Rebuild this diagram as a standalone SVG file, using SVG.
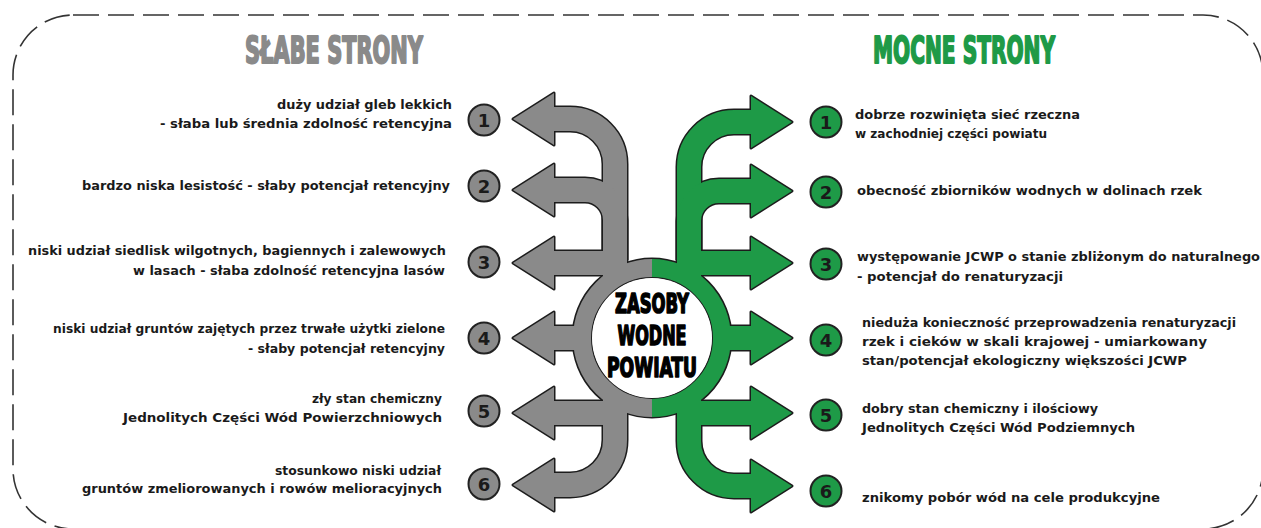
<svg xmlns="http://www.w3.org/2000/svg" width="1261" height="528" viewBox="0 0 1261 528">
<defs>
<style>
.ol{fill:none;stroke:#1c1c1c;stroke-width:27;stroke-linecap:butt}
.gf{fill:none;stroke:#8a8a8a;stroke-width:24;stroke-linecap:butt}
.nf{fill:none;stroke:#1e9a47;stroke-width:24;stroke-linecap:butt}
.olh{fill:#1c1c1c;stroke:#1c1c1c;stroke-width:3;stroke-linejoin:round}
.gh{fill:#8a8a8a}
.nh{fill:#1e9a47}
.t{font-family:"DejaVu Sans","Liberation Sans",sans-serif;font-weight:bold;font-size:13px;fill:#1a1a1a}
.e{text-anchor:end}
.num{font-family:"DejaVu Sans","Liberation Sans",sans-serif;font-weight:bold;font-size:18px;fill:#1a1a1a;text-anchor:middle}
.cg{fill:#8a8a8a;stroke:#222;stroke-width:2}
.cn{fill:#1e9a47;stroke:#222;stroke-width:2}
.hd{font-family:"Liberation Sans Narrow","DejaVu Sans Condensed","Liberation Sans",sans-serif;font-weight:bold;font-size:37px;text-anchor:middle;stroke-width:2;stroke-linejoin:round}
.ct{font-family:"Liberation Sans Narrow","DejaVu Sans Condensed","Liberation Sans",sans-serif;font-weight:bold;font-size:27px;fill:#000;stroke:#000;stroke-width:1.6;stroke-linejoin:round;text-anchor:middle}
</style>
</defs>
<rect x="13" y="15" width="1250" height="514" rx="60" fill="none" stroke="#333" stroke-width="1.6" stroke-dasharray="26 9"/>

<g id="connectors">
  <g id="outline">
    <circle cx="652" cy="338" r="70" fill="none" stroke="#1c1c1c" stroke-width="21"/>
    <path class="ol" d="M554,119 H570 A45,45 0 0 1 615,164 V282"/>
    <path class="ol" d="M554,190 H585 A30,30 0 0 1 615,220 V260"/>
    <path class="ol" d="M554,263 H627"/>
    <path class="ol" d="M554,338 H590"/>
    <path class="ol" d="M554,413 H627"/>
    <path class="ol" d="M554,485 H570 A45,45 0 0 0 615,440 V395"/>
    <path class="ol" d="M751,122 H734 A45,45 0 0 0 689,167 V282"/>
    <path class="ol" d="M751,191 H719 A30,30 0 0 0 689,221 V260"/>
    <path class="ol" d="M751,263 H677"/>
    <path class="ol" d="M751,338 H714"/>
    <path class="ol" d="M751,413 H677"/>
    <path class="ol" d="M751,486 H734 A45,45 0 0 1 689,441 V395"/>
    <polygon class="olh" points="513,119 554,93 554,145"/>
    <polygon class="olh" points="513,190 554,164 554,216"/>
    <polygon class="olh" points="513,263 554,237 554,289"/>
    <polygon class="olh" points="513,338 554,312 554,364"/>
    <polygon class="olh" points="513,413 554,387 554,439"/>
    <polygon class="olh" points="513,485 554,459 554,511"/>
    <polygon class="olh" points="792,122 751,96 751,148"/>
    <polygon class="olh" points="792,191 751,165 751,217"/>
    <polygon class="olh" points="792,263 751,237 751,289"/>
    <polygon class="olh" points="792,338 751,312 751,364"/>
    <polygon class="olh" points="792,413 751,387 751,439"/>
    <polygon class="olh" points="792,486 751,460 751,512"/>
  </g>
  <g id="weak-arrows">
    <path d="M652,268 A70,70 0 0 0 652,408" fill="none" stroke="#8a8a8a" stroke-width="18"/>
    <path class="gf" d="M553,119 H570 A45,45 0 0 1 615,164 V282"/>
    <path class="gf" d="M553,190 H585 A30,30 0 0 1 615,220 V260"/>
    <path class="gf" d="M553,263 H627"/>
    <path class="gf" d="M553,338 H590"/>
    <path class="gf" d="M553,413 H627"/>
    <path class="gf" d="M553,485 H570 A45,45 0 0 0 615,440 V395"/>
    <polygon class="gh" points="513,119 554,93 554,145"/>
    <polygon class="gh" points="513,190 554,164 554,216"/>
    <polygon class="gh" points="513,263 554,237 554,289"/>
    <polygon class="gh" points="513,338 554,312 554,364"/>
    <polygon class="gh" points="513,413 554,387 554,439"/>
    <polygon class="gh" points="513,485 554,459 554,511"/>
  </g>
  <g id="strong-arrows">
    <path d="M652,268 A70,70 0 0 1 652,408" fill="none" stroke="#1e9a47" stroke-width="18"/>
    <path class="nf" d="M752,122 H734 A45,45 0 0 0 689,167 V282"/>
    <path class="nf" d="M752,191 H719 A30,30 0 0 0 689,221 V260"/>
    <path class="nf" d="M752,263 H677"/>
    <path class="nf" d="M752,338 H714"/>
    <path class="nf" d="M752,413 H677"/>
    <path class="nf" d="M752,486 H734 A45,45 0 0 1 689,441 V395"/>
    <polygon class="nh" points="792,122 751,96 751,148"/>
    <polygon class="nh" points="792,191 751,165 751,217"/>
    <polygon class="nh" points="792,263 751,237 751,289"/>
    <polygon class="nh" points="792,338 751,312 751,364"/>
    <polygon class="nh" points="792,413 751,387 751,439"/>
    <polygon class="nh" points="792,486 751,460 751,512"/>
  </g>
</g>

<g id="center">
  <circle cx="652" cy="338" r="60" fill="#fff"/>
  <text class="ct" x="652" y="313" textLength="74" lengthAdjust="spacingAndGlyphs">ZASOBY</text>
  <text class="ct" x="652" y="345" textLength="69" lengthAdjust="spacingAndGlyphs">WODNE</text>
  <text class="ct" x="652" y="377" textLength="90" lengthAdjust="spacingAndGlyphs">POWIATU</text>
</g>

<g id="title-weak">
  <text class="hd" x="334" y="63" fill="#8a8a8a" stroke="#8a8a8a" textLength="178" lengthAdjust="spacingAndGlyphs">SŁABE STRONY</text>
</g>
<g id="title-strong">
  <text class="hd" x="964" y="63" fill="#1e9a47" stroke="#1e9a47" textLength="182" lengthAdjust="spacingAndGlyphs">MOCNE STRONY</text>
</g>

<g id="weak-1">
  <circle class="cg" cx="484" cy="120" r="15.5"/><text class="num" x="484" y="126.5">1</text>
  <text class="t e" x="452" y="109" textLength="175" lengthAdjust="spacingAndGlyphs">duży udział gleb lekkich</text>
  <text class="t e" x="452" y="128" textLength="292" lengthAdjust="spacingAndGlyphs">- słaba lub średnia zdolność retencyjna</text>
</g>
<g id="weak-2">
  <circle class="cg" cx="484" cy="186" r="15.5"/><text class="num" x="484" y="192.5">2</text>
  <text class="t e" x="450" y="190" textLength="368" lengthAdjust="spacingAndGlyphs">bardzo niska lesistość - słaby potencjał retencyjny</text>
</g>
<g id="weak-3">
  <circle class="cg" cx="484" cy="262" r="15.5"/><text class="num" x="484" y="268.5">3</text>
  <text class="t e" x="446" y="255" textLength="418" lengthAdjust="spacingAndGlyphs">niski udział siedlisk wilgotnych, bagiennych i zalewowych</text>
  <text class="t e" x="445" y="275" textLength="312" lengthAdjust="spacingAndGlyphs">w lasach - słaba zdolność retencyjna lasów</text>
</g>
<g id="weak-4">
  <circle class="cg" cx="484" cy="338" r="15.5"/><text class="num" x="484" y="344.5">4</text>
  <text class="t e" x="445" y="333" textLength="392" lengthAdjust="spacingAndGlyphs">niski udział gruntów zajętych przez trwałe użytki zielone</text>
  <text class="t e" x="445" y="353" textLength="197" lengthAdjust="spacingAndGlyphs">- słaby potencjał retencyjny</text>
</g>
<g id="weak-5">
  <circle class="cg" cx="484" cy="411" r="15.5"/><text class="num" x="484" y="417.5">5</text>
  <text class="t e" x="442" y="403" textLength="130" lengthAdjust="spacingAndGlyphs">zły stan chemiczny</text>
  <text class="t e" x="442" y="422" textLength="319" lengthAdjust="spacingAndGlyphs">Jednolitych Części Wód Powierzchniowych</text>
</g>
<g id="weak-6">
  <circle class="cg" cx="484" cy="484" r="15.5"/><text class="num" x="484" y="490.5">6</text>
  <text class="t e" x="441" y="475" textLength="166" lengthAdjust="spacingAndGlyphs">stosunkowo niski udział</text>
  <text class="t e" x="442" y="493" textLength="360" lengthAdjust="spacingAndGlyphs">gruntów zmeliorowanych i rowów melioracyjnych</text>
</g>

<g id="strong-1">
  <circle class="cn" cx="826" cy="122" r="15.5"/><text class="num" x="826" y="128.5">1</text>
  <text class="t" x="855" y="119" textLength="225" lengthAdjust="spacingAndGlyphs">dobrze rozwinięta sieć rzeczna</text>
  <text class="t" x="855" y="138" textLength="192" lengthAdjust="spacingAndGlyphs">w zachodniej części powiatu</text>
</g>
<g id="strong-2">
  <circle class="cn" cx="826" cy="192" r="15.5"/><text class="num" x="826" y="198.5">2</text>
  <text class="t" x="857" y="195" textLength="345" lengthAdjust="spacingAndGlyphs">obecność zbiorników wodnych w dolinach rzek</text>
</g>
<g id="strong-3">
  <circle class="cn" cx="826" cy="264" r="15.5"/><text class="num" x="826" y="270.5">3</text>
  <text class="t" x="857" y="261" textLength="403" lengthAdjust="spacingAndGlyphs">występowanie JCWP o stanie zbliżonym do naturalnego</text>
  <text class="t" x="857" y="281" textLength="206" lengthAdjust="spacingAndGlyphs">- potencjał do renaturyzacji</text>
</g>
<g id="strong-4">
  <circle class="cn" cx="826" cy="340" r="15.5"/><text class="num" x="826" y="346.5">4</text>
  <text class="t" x="862" y="327" textLength="374" lengthAdjust="spacingAndGlyphs">nieduża konieczność przeprowadzenia renaturyzacji</text>
  <text class="t" x="862" y="346" textLength="345" lengthAdjust="spacingAndGlyphs">rzek i cieków w skali krajowej - umiarkowany</text>
  <text class="t" x="862" y="365" textLength="325" lengthAdjust="spacingAndGlyphs">stan/potencjał ekologiczny większości JCWP</text>
</g>
<g id="strong-5">
  <circle class="cn" cx="826" cy="415" r="15.5"/><text class="num" x="826" y="421.5">5</text>
  <text class="t" x="862" y="413" textLength="236" lengthAdjust="spacingAndGlyphs">dobry stan chemiczny i ilościowy</text>
  <text class="t" x="862" y="432" textLength="273" lengthAdjust="spacingAndGlyphs">Jednolitych Części Wód Podziemnych</text>
</g>
<g id="strong-6">
  <circle class="cn" cx="826" cy="491" r="15.5"/><text class="num" x="826" y="497.5">6</text>
  <text class="t" x="862" y="502" textLength="298" lengthAdjust="spacingAndGlyphs">znikomy pobór wód na cele produkcyjne</text>
</g>
</svg>
